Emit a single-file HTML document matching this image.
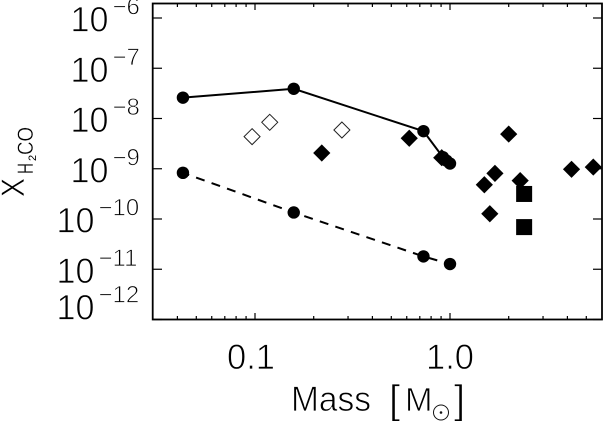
<!DOCTYPE html>
<html>
<head>
<meta charset="utf-8">
<title>X(H2CO) vs Mass</title>
<style>
html,body{margin:0;padding:0;background:#fff;}
svg{display:block;}
text{font-family:"Liberation Sans","DejaVu Sans",sans-serif;fill:#000;stroke:#fff;stroke-width:0.8px;}
</style>
</head>
<body>
<svg id="chart" width="603" height="421" viewBox="0 0 603 421" xmlns="http://www.w3.org/2000/svg">
  <g id="axes"></g>
  <g id="marks"></g>
  <g id="labels"></g>
  <g>
    <text x="291" y="411" font-size="35" textLength="80" lengthAdjust="spacingAndGlyphs">Mass</text>
    <text x="389" y="413" font-size="40">[</text>
    <text x="405" y="411" font-size="33">M</text>
    <circle cx="441" cy="412.5" r="7.5" fill="none" stroke="#111" stroke-width="1"></circle>
    <circle cx="441" cy="412.5" r="1.3" fill="#111"></circle>
    <text x="454" y="413" font-size="40">]</text>
  </g>
  <g>
    <text transform="translate(24,197) rotate(-90)" font-size="32" textLength="19" lengthAdjust="spacingAndGlyphs" style="stroke-width:0.6px">X</text>
    <text transform="translate(33,174) rotate(-90)" font-size="22" textLength="11" lengthAdjust="spacingAndGlyphs" style="stroke-width:0.4px">H</text>
    <text transform="translate(36,161) rotate(-90)" font-size="11" style="stroke-width:0">2</text>
    <text transform="translate(33,155) rotate(-90)" font-size="22" textLength="28" lengthAdjust="spacingAndGlyphs" style="stroke-width:0.4px">CO</text>
  </g>
</svg>
<script>
// ---- data ----
var solidMass = [0.0427, 0.158, 0.731, 0.92, 0.96, 1.0];
var solidAbund = [2.6e-8, 3.9e-8, 5.6e-9, 1.7e-9, 1.45e-9, 1.27e-9];
var dashedMass = [0.0427, 0.158, 0.731, 1.0];
var dashedAbund = [8.3e-10, 1.35e-10, 1.8e-11, 1.27e-11];
var filledDiamondMass = [0.22, 0.618, 0.907, 1.5, 1.7, 1.6, 2.0, 2.29, 4.2, 5.43];
var filledDiamondAbund = [2.06e-9, 4.04e-9, 1.66e-9, 4.8e-10, 8.1e-10, 1.27e-10, 4.9e-9, 5.8e-10, 9.75e-10, 1.08e-9];
var openDiamondMass = [0.0966, 0.119, 0.279];
var openDiamondAbund = [4.35e-9, 8.4e-9, 5.9e-9];
var squareMass = [2.4, 2.4];
var squareAbund = [3.15e-10, 6.9e-11];
var yTickExponents = [-6, -7, -8, -9, -10, -11, -12];
var xMajorTicks = [0.1, 1.0];
var xMajorLabels = ["0.1", "1.0"];
var xMinorTicks = [0.04, 0.05, 0.06, 0.07, 0.08, 0.09, 0.2, 0.3, 0.4, 0.5, 0.6, 0.7, 0.8, 0.9, 2, 3, 4, 5];

// ---- scales ----
function xScale(m) { return 450 + 195 * Math.log10(m); }
function yScale(v) { return 319.5 - 50.25 * (Math.log10(v) + 12); }

var NS = "http://www.w3.org/2000/svg";
var INK = "#000";
function make(tag, parent) {
  var el = document.createElementNS(NS, tag);
  parent.appendChild(el);
  return el;
}
function setAll(el, obj) {
  for (var k in obj) el.setAttribute(k, obj[k]);
}
var axes = document.getElementById("axes");
var marks = document.getElementById("marks");
var labels = document.getElementById("labels");

// ---- frame ----
var frame = make("rect", axes);
setAll(frame, {x: 152.7, y: 3.5, width: 449.3, height: 316, fill: "none", stroke: INK, "stroke-width": 1.8});



// ---- y ticks and labels ----
yTickExponents.forEach(function (e) {
  var y = yScale(Math.pow(10, e));
  [[152.7, 162], [593, 602]].forEach(function (p) {
    var t = make("line", axes);
    setAll(t, {x1: p[0], x2: p[1], y1: y, y2: y, stroke: INK, "stroke-width": 1.2});
    
    
  });
  var wide = e <= -10;
  var base = e === -12 ? y : y + 13.5;
  var txt = make("text", labels);
  setAll(txt, {x: wide ? 56.5 : 70.5, y: base, "font-size": 35, textLength: 38, lengthAdjust: "spacingAndGlyphs"});
  txt.textContent = "10";
  
  
  var sup = make("text", labels);
  setAll(sup, {x: wide ? 98.5 : 112.5, y: base - 17, "font-size": 24});
  sup.textContent = "\u2212" + Math.abs(e);
  
  
});

// ---- x ticks and labels ----
xMinorTicks.forEach(function (m) {
  var x = xScale(m);
  [[319.5, 316], [3.5, 7]].forEach(function (p) {
    var t = make("line", axes);
    setAll(t, {x1: x, x2: x, y1: p[0], y2: p[1], stroke: INK, "stroke-width": 1.2});
    
    
  });
});
xMajorTicks.forEach(function (m, i) {
  var x = xScale(m);
  [[319.5, 313], [3.5, 10]].forEach(function (p) {
    var t = make("line", axes);
    setAll(t, {x1: x, x2: x, y1: p[0], y2: p[1], stroke: INK, "stroke-width": 1.2});
    
    
  });
  var txt = make("text", labels);
  setAll(txt, {x: i === 1 ? x : x - 4, y: 369, "font-size": 35, "text-anchor": "middle", textLength: 48, lengthAdjust: "spacingAndGlyphs"});
  txt.textContent = xMajorLabels[i];
  
  
});

// ---- lines ----
function pts(xs, ys) {
  return xs.map(function (m, i) { return xScale(m) + "," + yScale(ys[i]); }).join(" ");
}
var solid = make("polyline", marks);
setAll(solid, {points: pts(solidMass, solidAbund), fill: "none", stroke: INK, "stroke-width": 2});



var dashed = make("polyline", marks);
setAll(dashed, {points: pts(dashedMass, dashedAbund), fill: "none", stroke: INK, "stroke-width": 2, "stroke-dasharray": "9 7.4", "stroke-dashoffset": "-14"});



// ---- points ----
function circles(xs, ys, name) {
  xs.forEach(function (m, i) {
    var c = make("circle", marks);
    setAll(c, {cx: xScale(m), cy: yScale(ys[i]), r: 6.2, fill: INK});
    
    
  });
}
circles(solidMass, solidAbund, 'solid-series-point');
circles(dashedMass, dashedAbund, 'dashed-series-point');

function diamond(cx, cy, r) {
  return [cx, cy - r, cx + r, cy, cx, cy + r, cx - r, cy].join(" ");
}
filledDiamondMass.forEach(function (m, i) {
  var d = make("polygon", marks);
  setAll(d, {points: diamond(xScale(m), yScale(filledDiamondAbund[i]), 8.6), fill: INK});
  
  
});
openDiamondMass.forEach(function (m, i) {
  var d = make("polygon", marks);
  setAll(d, {points: diamond(xScale(m), yScale(openDiamondAbund[i]), 8), fill: "#fff", stroke: "#222", "stroke-width": 1});
  
  
});
squareMass.forEach(function (m, i) {
  var s = make("rect", marks);
  setAll(s, {x: xScale(m) - 8, y: yScale(squareAbund[i]) - 8, width: 16, height: 16, fill: INK});
  
  
});
</script>
</body>
</html>
